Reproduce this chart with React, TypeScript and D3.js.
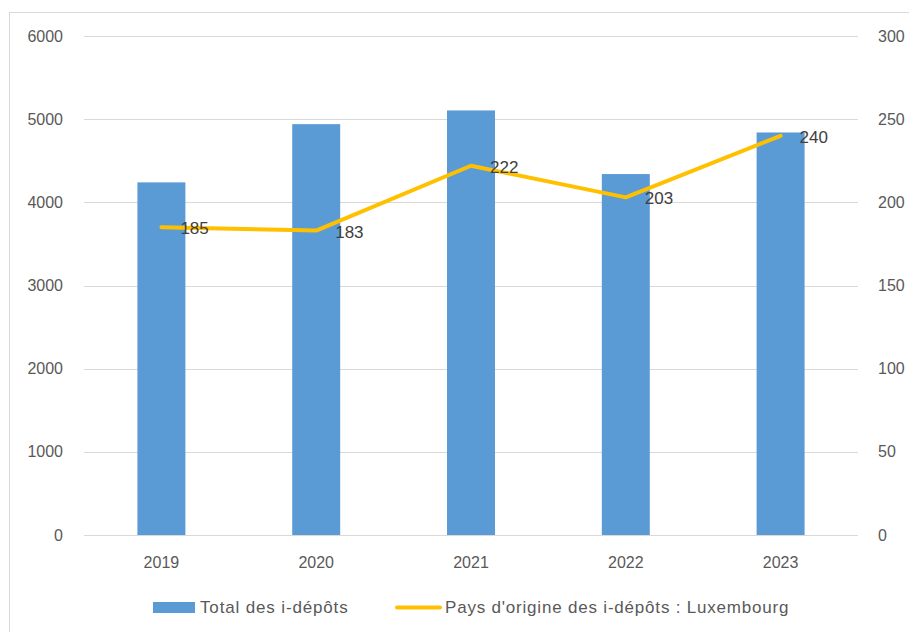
import React from "react";
import * as d3 from "d3";

const years = ["2019", "2020", "2021", "2022", "2023"];
const totalDepots = [4240, 4940, 5105, 4340, 4840];
const luxembourg = [185, 183, 222, 203, 240];
const leftTicks = [0, 1000, 2000, 3000, 4000, 5000, 6000];
const rightTicks = [0, 50, 100, 150, 200, 250, 300];
const legendBar = "Total des i-dépôts";
const legendLine = "Pays d'origine des i-dépôts : Luxembourg";

const W = 909;
const H = 632;
const left = 84;
const right = 858;
const top = 36;
const bottom = 535;
const font = "'Liberation Sans', Arial, sans-serif";

export default function App() {
  const x = d3.scaleBand<string>().domain(years).range([left, right]).paddingInner(0.69).paddingOuter(0.345);
  const yL = d3.scaleLinear().domain([0, 6000]).range([bottom, top]);
  const yR = d3.scaleLinear().domain([0, 300]).range([bottom, top]);
  const cx = (d: string) => (x(d) as number) + x.bandwidth() / 2;
  const line = d3
    .line<number>()
    .x((_, i) => cx(years[i]))
    .y((d) => yR(d));

  return (
    <svg width={W} height={H} style={{ position: "absolute", left: 0, top: 0, background: "#fff" }}>
      <rect x={9.5} y={12.5} width={W + 20} height={H + 20} fill="#fff" stroke="#d9d9d9" strokeWidth={1} />
      {leftTicks.map((t) => (
        <line key={t} x1={left} x2={right} y1={Math.round(yL(t)) + 0.5} y2={Math.round(yL(t)) + 0.5} stroke="#d9d9d9" strokeWidth={1} />
      ))}
      {leftTicks.map((t) => (
        <text key={"l" + t} x={63} y={yL(t)} dy="0.35em" textAnchor="end" fontFamily={font} fontSize={16} fill="#595959">
          {t}
        </text>
      ))}
      {rightTicks.map((t) => (
        <text key={"r" + t} x={878} y={yR(t)} dy="0.35em" textAnchor="start" fontFamily={font} fontSize={16} fill="#595959">
          {t}
        </text>
      ))}
      {years.map((yr, i) => (
        <rect key={yr} x={x(yr)} y={yL(totalDepots[i])} width={x.bandwidth()} height={bottom - yL(totalDepots[i])} fill="#5b9bd5" />
      ))}
      {years.map((yr) => (
        <text key={"x" + yr} x={cx(yr)} y={562} dy="0.35em" textAnchor="middle" fontFamily={font} fontSize={16} fill="#595959">
          {yr}
        </text>
      ))}
      <path d={line(luxembourg) || ""} fill="none" stroke="#ffc000" strokeWidth={4} strokeLinejoin="round" strokeLinecap="round" />
      {years.map((yr, i) => (
        <text key={"v" + yr} x={cx(yr) + 19} y={yR(luxembourg[i]) + 1} dy="0.35em" textAnchor="start" fontFamily={font} fontSize={17} fill="#404040">
          {luxembourg[i]}
        </text>
      ))}
      <rect x={153} y={602} width={42} height={11} fill="#5b9bd5" />
      <text x={200} y={607} dy="0.35em" fontFamily={font} fontSize={17} fill="#595959" letterSpacing={0.85}>
        {legendBar}
      </text>
      <line x1={397} x2={440} y1={607.5} y2={607.5} stroke="#ffc000" strokeWidth={4} strokeLinecap="round" />
      <text x={445} y={607} dy="0.35em" fontFamily={font} fontSize={17} fill="#595959" letterSpacing={0.8}>
        {legendLine}
      </text>
    </svg>
  );
}
